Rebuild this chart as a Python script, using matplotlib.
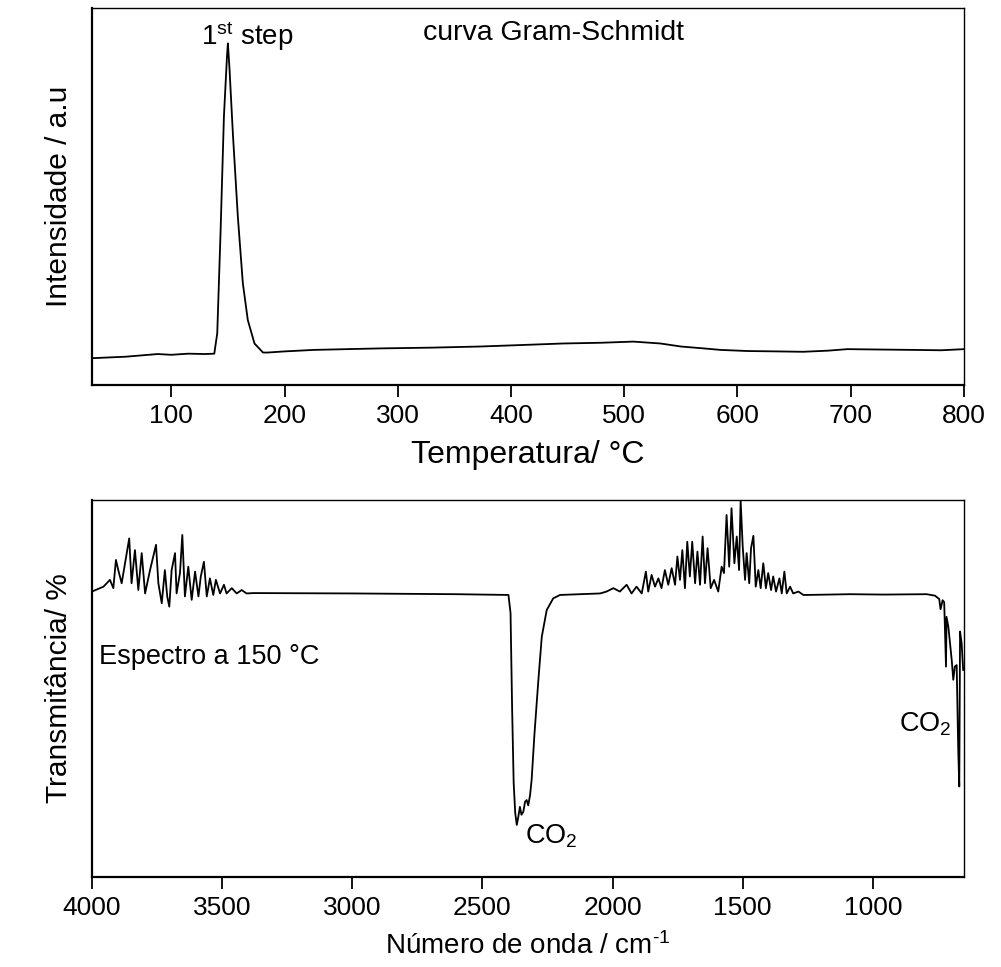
import matplotlib
matplotlib.use('Agg')
import matplotlib.pyplot as plt

plt.rcParams['font.family'] = ['Liberation Sans', 'DejaVu Sans']
plt.rcParams['mathtext.fontset'] = 'custom'
plt.rcParams['mathtext.rm'] = 'Liberation Sans'
plt.rcParams['mathtext.it'] = 'Liberation Sans'

# Gram-Schmidt curve (temperature in C, intensity in a.u.)
temp = [30, 60, 88, 100, 115, 130, 138, 140.6, 143.5, 146.5, 149.2, 150, 151.4, 154.4,
        158.8, 163.2, 167.6, 173.5, 181, 185, 200, 226, 255, 285, 330, 373, 410, 446,
        480, 508, 532, 550, 570, 585, 609, 635, 658, 680, 697, 725, 755, 780, 800]
intens = [0.071, 0.075, 0.082, 0.080, 0.083, 0.082, 0.083, 0.137, 0.402, 0.712, 0.871,
          0.906, 0.84, 0.667, 0.446, 0.27, 0.172, 0.11, 0.086, 0.086, 0.089, 0.093,
          0.095, 0.097, 0.099, 0.102, 0.106, 0.110, 0.112, 0.115, 0.110, 0.102, 0.097,
          0.093, 0.090, 0.089, 0.088, 0.091, 0.095, 0.094, 0.093, 0.092, 0.095]

# FTIR spectrum at 150 C (wavenumber, transmittance a.u.)
wn = [4000, 3956, 3931, 3918, 3908, 3899, 3886, 3857, 3848, 3835, 3822, 3809, 3796,
      3777, 3754, 3745, 3732, 3720, 3711, 3703, 3694, 3681, 3675, 3662, 3653, 3643,
      3630, 3617, 3604, 3591, 3582, 3570, 3559, 3547, 3534, 3524, 3508, 3493, 3483,
      3463, 3444, 3425, 3406, 3380, 3000, 2600, 2400, 2392, 2386, 2380, 2374, 2368,
      2362, 2356, 2350, 2343, 2336, 2330, 2324, 2317, 2311, 2300, 2285, 2272, 2253,
      2228, 2202, 2125, 2048, 2023, 1997, 1972, 1946, 1927, 1908, 1888, 1872, 1863,
      1850, 1837, 1824, 1812, 1799, 1786, 1773, 1760, 1751, 1741, 1732, 1722, 1713,
      1703, 1694, 1683, 1674, 1664, 1654, 1645, 1635, 1623, 1610, 1594, 1581, 1572,
      1562, 1552, 1543, 1532, 1523, 1514, 1508, 1500, 1491, 1485, 1475, 1468, 1459,
      1450, 1440, 1431, 1421, 1411, 1402, 1391, 1383, 1372, 1359, 1350, 1340, 1331,
      1318, 1306, 1286, 1267, 1254, 1088, 960, 793, 761, 745, 740, 732, 726, 719, 717,
      710, 697, 691, 685, 678, 672, 668, 665, 659, 653]
trans = [0.757, 0.770, 0.788, 0.766, 0.841, 0.814, 0.779, 0.898, 0.779, 0.867, 0.761,
         0.859, 0.752, 0.814, 0.881, 0.779, 0.726, 0.814, 0.744, 0.717, 0.814, 0.859,
         0.752, 0.806, 0.907, 0.744, 0.823, 0.735, 0.810, 0.744, 0.797, 0.836, 0.744,
         0.792, 0.748, 0.788, 0.752, 0.775, 0.752, 0.766, 0.752, 0.761, 0.752, 0.753,
         0.752, 0.750, 0.748, 0.70, 0.45, 0.25, 0.17, 0.138, 0.16, 0.186, 0.165, 0.173,
         0.20, 0.204, 0.19, 0.217, 0.257, 0.38, 0.523, 0.637, 0.708, 0.739, 0.748,
         0.750, 0.752, 0.757, 0.766, 0.757, 0.775, 0.752, 0.770, 0.752, 0.810, 0.757,
         0.801, 0.770, 0.792, 0.766, 0.814, 0.775, 0.819, 0.775, 0.850, 0.788, 0.867,
         0.766, 0.889, 0.797, 0.889, 0.779, 0.863, 0.775, 0.903, 0.779, 0.872, 0.766,
         0.788, 0.757, 0.823, 0.806, 0.960, 0.823, 0.978, 0.832, 0.903, 0.814, 0.998,
         0.876, 0.788, 0.859, 0.779, 0.872, 0.905, 0.770, 0.814, 0.766, 0.832, 0.766,
         0.806, 0.761, 0.797, 0.757, 0.792, 0.752, 0.810, 0.752, 0.770, 0.752, 0.757,
         0.748, 0.748, 0.750, 0.749, 0.750, 0.746, 0.737, 0.710, 0.734, 0.729, 0.558,
         0.690, 0.664, 0.575, 0.523, 0.558, 0.562, 0.337, 0.240, 0.651, 0.620, 0.549]

temp_ticks = [100, 200, 300, 400, 500, 600, 700, 800]
wn_ticks = [4000, 3500, 3000, 2500, 2000, 1500, 1000]

fig = plt.figure(figsize=(10.01, 9.67), dpi=100)
ax1 = fig.add_axes([0.0919, 0.6019, 0.8711, 0.3899])
ax2 = fig.add_axes([0.0919, 0.0931, 0.8711, 0.3899])

# ---- top: Gram-Schmidt
ax1.plot(temp, intens, color='black', lw=1.3)
ax1.set_xlim(30, 800)
ax1.set_ylim(0, 1)
ax1.set_xticks(temp_ticks)
ax1.set_yticks([])
ax1.set_xlabel('Temperatura/ °C', fontsize=23, labelpad=9)
ax1.set_ylabel('Intensidade / a.u', fontsize=21.5, labelpad=14)
ax1.text(126.5, 0.925, r'1$^{\mathregular{st}}$ step', fontsize=20, va='center', ha='left')
ax1.text(322, 0.934, 'curva Gram-Schmidt', fontsize=20.5, va='center', ha='left')

# ---- bottom: spectrum
ax2.plot(wn, trans, color='black', lw=1.3)
ax2.set_xlim(4000, 650)
ax2.set_ylim(0, 1)
ax2.set_xticks(wn_ticks)
ax2.set_yticks([])
ax2.set_xlabel('Número de onda / cm$^{\\mathregular{\u2010}\\mathregular{1}}$', fontsize=20, labelpad=9)
ax2.set_ylabel('Transmitância/ %', fontsize=21.5, labelpad=14)
ax2.text(3973, 0.584, 'Espectro a 150 °C', fontsize=19.5, va='center', ha='left')
ax2.text(2337, 0.090, r'CO$_{\mathregular{2}}$', fontsize=19.5, va='baseline', ha='left')
ax2.text(900, 0.385, r'CO$_{\mathregular{2}}$', fontsize=19.5, va='baseline', ha='left')

for ax in (ax1, ax2):
    ax.tick_params(axis='x', direction='out', length=8.5, width=1.3, labelsize=19, pad=5)
    for s in ax.spines.values():
        s.set_linewidth(1.0)
    ax.spines['bottom'].set_linewidth(1.6)
    ax.spines['left'].set_linewidth(1.6)

fig.savefig('out.png', dpi=100)
